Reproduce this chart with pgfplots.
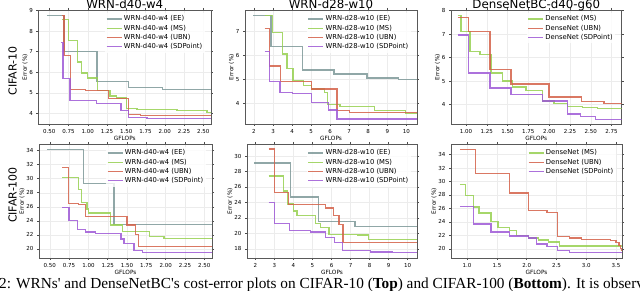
\documentclass[border=0pt]{standalone}
\usepackage{fontspec}
\setmainfont{DejaVu Sans}
\newfontfamily\capfont{Liberation Serif}
\usepackage{pgfplots}
\pgfplotsset{compat=1.18}
\definecolor{cEE}{RGB}{125,152,152}
\definecolor{cMS}{RGB}{150,208,80}
\definecolor{cUBN}{RGB}{212,96,72}
\definecolor{cSD}{RGB}{158,88,214}
\pgfplotsset{
  panel/.style={
    scale only axis, anchor=south west,
    axis line style={draw=black!65, line width=0.8pt},
    grid=major, grid style={gray!15, line width=0.4pt},
    tick label style={font=\fontsize{5.5}{6}\selectfont},
    /pgf/number format/assume math mode=true,
    tick align=outside, major tick length=2pt,
    tick style={black!70, line width=0.5pt},
    xlabel={GFLOPs}, ylabel={Error (\%)},
    label style={font=\fontsize{5.8}{6}\selectfont},
    xlabel style={yshift=4pt},
    ylabel style={yshift=-5pt},
    title style={font=\fontsize{11.8}{12}\selectfont, at={(0.5,1)}, anchor=base, yshift=-5pt},
    legend cell align=left,
    legend style={at={(0.965,0.975)}, anchor=north east, draw=none, fill=white, fill opacity=0.8, text opacity=1,
      font=\fontsize{6.8}{7.5}\selectfont, row sep=-0.6pt, inner sep=1pt,
      nodes={inner sep=1.6pt}},
    legend image code/.code={\draw[##1] (0pt,0pt) -- (15pt,0pt);},
  },
  ee/.style={cEE, const plot, line width=1.3pt, opacity=0.85},
  ms/.style={cMS, const plot, line width=1.3pt, opacity=0.85},
  ubn/.style={cUBN, const plot, line width=1.3pt, opacity=0.85},
  sd/.style={cSD, const plot, line width=1.3pt, opacity=0.85},
}
\begin{document}
\begin{tikzpicture}
% ---------------- top row: CIFAR-10 ----------------
\begin{axis}[panel, at={(38.5pt,167pt)}, width=172.5pt, height=114pt,
  title={WRN-d40-w4},
  xmin=0.36, xmax=2.60, ymin=3.49, ymax=9.02,
  xtick={0.5,0.75,1,1.25,1.5,1.75,2,2.25,2.5}, ytick={4,5,6,7,8,9},
  xticklabel style={/pgf/number format/.cd, fixed, fixed zerofill, precision=2}]
\addplot[ee] coordinates {(0.47,8.75)(0.69,7.0)(1.12,5.55)(1.53,5.25)(1.97,5.15)(2.60,5.15)};
\addlegendentry{WRN-d40-w4 (EE)}
\addplot[ms] coordinates {(0.66,8.55)(0.75,7.55)(0.87,6.5)(0.92,5.97)(1.00,5.72)(1.13,5.1)(1.29,4.85)(1.37,4.75)(1.50,4.25)(1.64,4.2)(2.16,4.15)(2.55,4.05)(2.60,4.05)};
\addlegendentry{WRN-d40-w4 (MS)}
\addplot[ubn] coordinates {(0.66,8.75)(0.69,6.8)(0.78,5.15)(0.97,5.1)(1.27,4.72)(1.53,3.95)(1.68,3.9)(2.60,3.9)};
\addlegendentry{WRN-d40-w4 (UBN)}
\addplot[sd] coordinates {(0.65,7.45)(0.68,5.68)(0.77,4.64)(1.11,4.47)(1.43,4.15)(1.53,3.8)(1.77,3.74)(2.60,3.74)};
\addlegendentry{WRN-d40-w4 (SDPoint)}
\end{axis}
\begin{axis}[panel, at={(245pt,167pt)}, width=172pt, height=114pt,
  title={WRN-d28-w10},
  xmin=1.53, xmax=10.56, ymin=3.14, ymax=7.88,
  xtick={2,3,4,5,6,7,8,9,10}, ytick={4,5,6,7}]
\addplot[ee] coordinates {(1.97,7.65)(2.9,6.35)(4.55,5.38)(6.2,5.22)(7.93,5.05)(9.6,5.0)(10.56,5.0)};
\addlegendentry{WRN-d28-w10 (EE)}
\addplot[ms] coordinates {(2.56,7.65)(2.97,6.95)(3.5,6.05)(3.74,5.45)(4.05,4.95)(4.6,4.75)(5.02,4.6)(5.7,4.45)(5.85,3.95)(6.52,3.88)(8.33,3.7)(9.95,3.58)(10.56,3.58)};
\addlegendentry{WRN-d28-w10 (MS)}
\addplot[ubn] coordinates {(2.56,7.12)(2.8,5.55)(3.4,4.9)(5.02,4.6)(6.36,3.7)(7.03,3.62)(10.56,3.62)};
\addlegendentry{WRN-d28-w10 (UBN)}
\addplot[sd] coordinates {(2.56,6.15)(2.8,4.92)(3.37,4.45)(4.03,4.4)(5.02,4.02)(5.9,3.72)(6.36,3.35)(10.56,3.35)};
\addlegendentry{WRN-d28-w10 (SDPoint)}
\end{axis}
\begin{axis}[panel, at={(451pt,167pt)}, width=170.5pt, height=114pt,
  title={DenseNetBC-d40-g60},
  xmin=0.82, xmax=2.87, ymin=3.17, ymax=8.03,
  xtick={1,1.25,1.5,1.75,2,2.25,2.5,2.75}, ytick={4,5,6,7,8},
  xticklabel style={/pgf/number format/.cd, fixed, fixed zerofill, precision=2}]
\addplot[ms] coordinates {(0.9,7.8)(0.94,7.1)(1.05,6.25)(1.17,6.12)(1.3,5.35)(1.44,5.0)(1.56,4.75)(1.72,4.6)(1.92,4.15)(2.06,4.05)(2.22,3.92)(2.4,3.88)(2.58,3.82)(2.87,3.82)};
\addlegendentry{DenseNet (MS)}
\addplot[ubn] coordinates {(0.9,7.7)(1.03,7.1)(1.29,5.5)(1.54,4.88)(2.0,4.32)(2.39,4.12)(2.66,4.05)(2.87,4.05)};
\addlegendentry{DenseNet (UBN)}
\addplot[sd] coordinates {(0.9,6.97)(1.03,5.35)(1.29,4.7)(1.54,4.42)(1.92,4.15)(2.22,3.6)(2.38,3.5)(2.56,3.37)(2.87,3.37)};
\addlegendentry{DenseNet (SDPoint)}
\end{axis}
% ---------------- bottom row: CIFAR-100 ----------------
\begin{axis}[panel, at={(39pt,33pt)}, width=173pt, height=114pt,
  xmin=0.36, xmax=2.60, ymin=18.7, ymax=34.94,
  xtick={0.5,0.75,1,1.25,1.5,1.75,2,2.25,2.5}, ytick={20,22,24,26,28,30,32,34},
  xticklabel style={/pgf/number format/.cd, fixed, fixed zerofill, precision=2}]
\addplot[ee] coordinates {(0.47,34.2)(0.94,29.3)(1.33,23.5)(2.60,23.5)};
\addlegendentry{WRN-d40-w4 (EE)}
\addplot[ms] coordinates {(0.66,30.2)(0.87,28.5)(0.91,26.6)(0.98,25.7)(1.0,25.1)(1.29,23.4)(1.44,22.5)(1.79,21.8)(1.98,21.5)(2.60,21.45)};
\addlegendentry{WRN-d40-w4 (MS)}
\addplot[ubn] coordinates {(0.66,31.6)(0.74,26.5)(0.87,26.3)(0.96,24.6)(1.5,23.4)(1.61,22.0)(1.65,20.3)(2.60,20.3)};
\addlegendentry{WRN-d40-w4 (UBN)}
\addplot[sd] coordinates {(0.66,25.9)(0.75,24.0)(0.86,22.8)(0.96,22.4)(1.09,22.2)(1.42,21.4)(1.46,20.8)(1.59,19.8)(1.7,19.5)(2.60,19.4)};
\addlegendentry{WRN-d40-w4 (SDPoint)}
\end{axis}
\begin{axis}[panel, at={(247pt,33pt)}, width=170pt, height=114pt,
  xmin=1.56, xmax=10.49, ymin=16.83, ymax=31.55,
  xtick={2,3,4,5,6,7,8,9,10}, ytick={18,20,22,24,26,28,30}]
\addplot[ee] coordinates {(1.95,29.1)(3.84,24.7)(5.33,21.5)(7.23,20.9)(10.49,20.9)};
\addlegendentry{WRN-d28-w10 (EE)}
\addplot[ms] coordinates {(2.7,27.4)(3.49,25.5)(3.67,23.8)(4.02,22.9)(4.19,22.3)(5.16,21.3)(5.42,20.8)(5.86,19.9)(7.35,19.8)(7.96,19.2)(10.49,19.2)};
\addlegendentry{WRN-d28-w10 (MS)}
\addplot[ubn] coordinates {(2.7,30.9)(3.0,25.3)(3.75,23.7)(5.68,23.3)(6.12,22.3)(6.39,21.2)(6.6,18.8)(10.49,18.8)};
\addlegendentry{WRN-d28-w10 (UBN)}
\addplot[sd] coordinates {(2.7,24.0)(3.0,21.3)(3.79,20.4)(4.89,20.2)(5.68,19.5)(6.16,18.8)(6.56,17.8)(8.05,17.6)(9.19,17.5)(10.49,17.5)};
\addlegendentry{WRN-d28-w10 (SDPoint)}
\end{axis}
\begin{axis}[panel, at={(451pt,33pt)}, width=171pt, height=114pt,
  xmin=0.73, xmax=3.6, ymin=18.63, ymax=35.57,
  xtick={1,1.5,2,2.5,3,3.5}, ytick={20,22,24,26,28,30,32,34},
  xticklabel style={/pgf/number format/.cd, fixed, fixed zerofill, precision=1}]
\addplot[ms] coordinates {(0.88,29.6)(0.97,27.9)(1.11,26.2)(1.2,25.3)(1.4,24.1)(1.52,23.2)(1.71,22.7)(1.83,22.0)(2.03,21.6)(2.2,21.3)(2.37,21.0)(2.55,20.4)(3.6,20.4)};
\addlegendentry{DenseNet (MS)}
\addplot[ubn] coordinates {(0.88,34.8)(1.14,31.2)(1.71,28.3)(2.03,25.7)(2.34,25.4)(2.52,21.8)(2.72,21.6)(2.92,21.4)(3.41,21.2)(3.5,20.9)(3.55,20.5)(3.58,20.0)(3.6,19.6)};
\addlegendentry{DenseNet (UBN)}
\addplot[sd] coordinates {(0.88,26.3)(1.11,23.7)(1.4,22.5)(1.71,21.9)(2.03,21.6)(2.17,20.7)(2.34,20.3)(2.52,19.7)(2.72,19.4)(3.6,19.4)};
\addlegendentry{DenseNet (SDPoint)}
\end{axis}
% row labels
\node[rotate=90, font=\fontsize{11}{12}\selectfont, inner sep=0] at (12.5pt,220pt) {CIFAR-10};
\node[rotate=90, font=\fontsize{11}{12}\selectfont, inner sep=0] at (12.5pt,96pt) {CIFAR-100};
% caption fragment
\node[anchor=base west, inner sep=0, font=\capfont\fontsize{15.3}{16}\selectfont] at (-1pt,2pt)
  {2: WRNs' and DenseNetBC's cost-error plots on CIFAR-10 (\textbf{Top}) and CIFAR-100 (\textbf{Bottom}). It is observed};
\pgfresetboundingbox
\useasboundingbox (0pt,0pt) rectangle (640pt,291pt);
\end{tikzpicture}
\end{document}
